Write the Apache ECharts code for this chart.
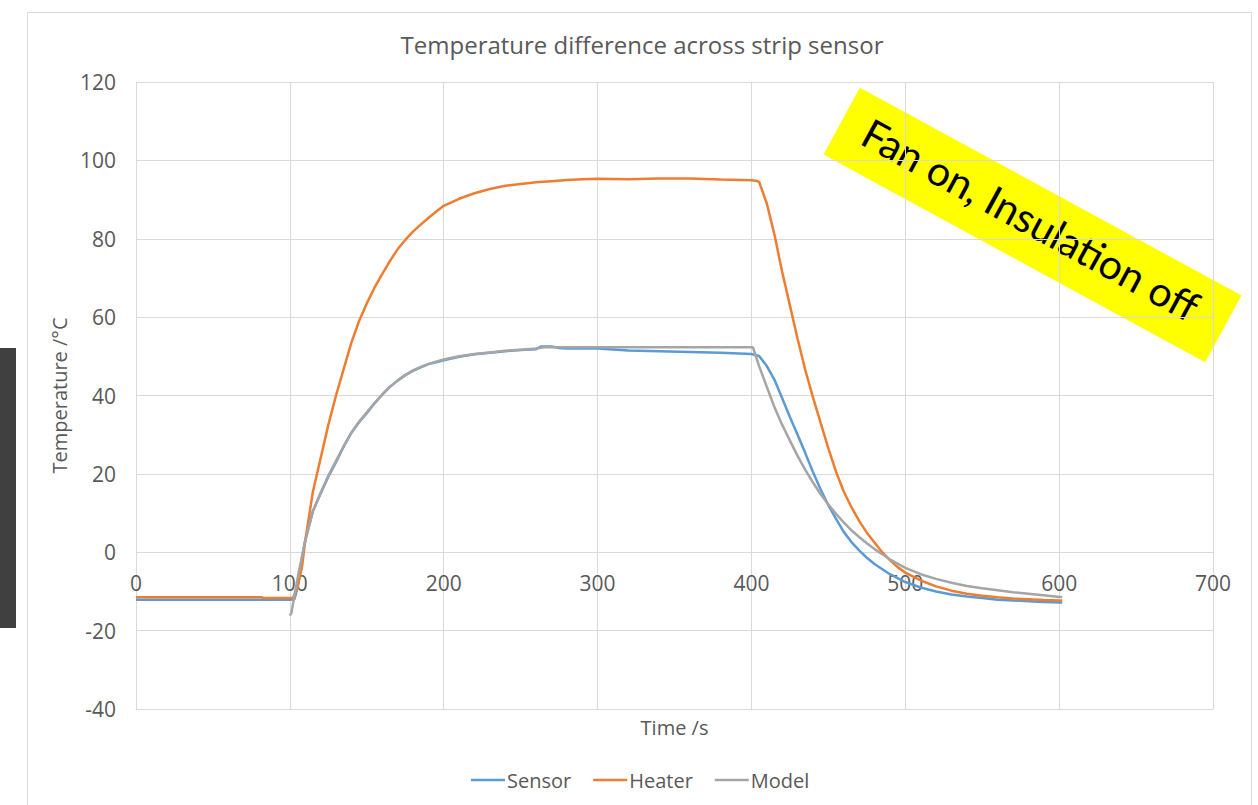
<!DOCTYPE html>
<html>
<head>
<meta charset="utf-8">
<script src="https://cdn.jsdelivr.net/npm/echarts@6/dist/echarts.min.js"></script>
<style>
html,body{margin:0;padding:0;background:#fff;}
#chart{width:1258px;height:805px;}
</style>
</head>
<body>
<div id="chart"></div>
<script>
const xTicks = [0, 100, 200, 300, 400, 500, 600, 700];
const yTicks = [-40, -20, 0, 20, 40, 60, 80, 100, 120];
const seriesNames = ['Sensor', 'Heater', 'Model'];

const sensorTime = [0, 20, 40, 60, 80, 100, 103, 105, 108, 110, 115, 120, 125, 130, 135, 140, 145, 150, 155, 160, 165, 170, 175, 180, 185, 190, 195, 200, 210, 220, 230, 240, 250, 260, 263, 270, 275, 280, 300, 320, 340, 360, 380, 400, 405, 410, 415, 420, 425, 430, 435, 440, 445, 450, 455, 460, 465, 470, 475, 480, 490, 500, 510, 520, 530, 540, 550, 560, 570, 580, 590, 600, 602];
const sensorTemp = [-12.1, -12.1, -12.1, -12.1, -12.1, -12.1, -12, -9, -1, 3, 10.5, 15, 19.3, 23, 27, 30.5, 33.2, 35.5, 38, 40.2, 42.2, 43.8, 45.2, 46.3, 47.2, 48, 48.5, 49, 49.9, 50.5, 50.9, 51.3, 51.6, 51.8, 52.5, 52.5, 52.1, 52, 52, 51.5, 51.3, 51.1, 50.9, 50.6, 50.1, 47.5, 44, 39.3, 34.5, 30, 25.3, 20.5, 16, 12, 8.5, 5.2, 2.6, 0.5, -1.4, -3, -5.6, -7.6, -9, -10, -10.8, -11.3, -11.7, -12.1, -12.3, -12.5, -12.7, -12.8, -12.8];

const heaterTime = [0, 82, 83, 102, 105, 108, 110, 115, 120, 125, 130, 135, 140, 145, 150, 155, 160, 165, 170, 175, 180, 185, 190, 195, 200, 210, 220, 230, 240, 250, 260, 270, 280, 290, 300, 320, 340, 360, 380, 400, 403, 405, 410, 415, 420, 425, 430, 435, 440, 445, 450, 455, 460, 465, 470, 475, 480, 485, 490, 495, 500, 510, 520, 530, 540, 550, 560, 570, 580, 590, 600, 602];
const heaterTemp = [-11.5, -11.5, -11.7, -11.7, -9, -3.5, 3, 15.5, 24, 32.5, 40, 46.8, 53.5, 59, 63.5, 67.5, 71, 74.3, 77.3, 79.7, 81.8, 83.6, 85.3, 86.9, 88.4, 90.2, 91.6, 92.7, 93.5, 94, 94.4, 94.7, 95, 95.2, 95.3, 95.2, 95.4, 95.4, 95.1, 94.9, 94.8, 94.5, 89, 81, 71.5, 63, 54.5, 46.5, 39.5, 33, 26.5, 20.5, 15.5, 11.5, 8, 5, 2.5, 0, -2, -3.8, -5.2, -7.2, -8.7, -9.8, -10.6, -11.1, -11.5, -11.8, -12, -12.2, -12.3, -12.3];

const modelTime = [100, 101, 103, 106, 108, 110, 115, 120, 125, 130, 135, 140, 145, 150, 155, 160, 165, 170, 175, 180, 185, 190, 195, 200, 210, 220, 230, 240, 250, 260, 265, 300, 350, 401, 405, 410, 415, 420, 425, 430, 435, 440, 445, 450, 455, 460, 465, 470, 475, 480, 490, 500, 510, 520, 530, 540, 550, 560, 570, 580, 590, 600, 602];
const modelTemp = [-16.2, -15.5, -11, -4.6, -1, 3, 10.5, 15.2, 19.5, 23.3, 27, 30.5, 33.3, 35.7, 38, 40.2, 42.2, 43.8, 45.2, 46.4, 47.3, 48, 48.6, 49.2, 50, 50.6, 51, 51.4, 51.7, 52, 52.3, 52.3, 52.3, 52.3, 47.5, 42.2, 37, 32.5, 28.5, 24.6, 21, 17.8, 14.8, 12.2, 9.8, 7.6, 5.6, 3.9, 2.3, 0.8, -1.8, -4, -5.6, -6.8, -7.8, -8.6, -9.2, -9.7, -10.2, -10.6, -11, -11.4, -11.4];

const zip = (a, b) => a.map((t, i) => [t, b[i]]);

const chart = echarts.init(document.getElementById('chart'), null, {renderer: 'svg'});
const FONT = '"Open Sans", "Segoe UI", sans-serif';
const TXT = '#595959';
const GRID = '#d9d9d9';

chart.setOption({
  animation: false,
  backgroundColor: '#fff',
  title: {
    text: 'Temperature difference across strip sensor',
    left: 637, top: 27, textAlign: 'center',
    textStyle: {fontFamily: FONT, fontSize: 24, fontWeight: 'normal', color: TXT}
  },
  legend: {
    data: seriesNames,
    bottom: 10, left: 466,
    icon: 'rect', itemWidth: 34, itemHeight: 2.5, itemGap: 22,
    textStyle: {fontFamily: FONT, fontSize: 20, color: TXT, padding: [0, 0, 0, -3]}
  },
  grid: {left: 136, right: 45, top: 82, bottom: 96, containLabel: false, outerBoundsMode: 'none'},
  xAxis: {
    type: 'value', min: xTicks[0], max: xTicks[xTicks.length - 1], interval: 100,
    name: 'Time /s', nameLocation: 'middle', nameGap: 8,
    nameTextStyle: {fontFamily: FONT, fontSize: 20, color: TXT},
    axisLine: {show: true, onZero: false, lineStyle: {color: GRID, width: 1}},
    axisTick: {show: false},
    axisLabel: {fontFamily: FONT, fontSize: 21, color: TXT, margin: -137},
    splitLine: {show: true, lineStyle: {color: GRID, width: 1}}
  },
  yAxis: {
    type: 'value', min: yTicks[0], max: yTicks[yTicks.length - 1], interval: 20,
    name: 'Temperature /°C', nameLocation: 'middle', nameGap: 64,
    nameTextStyle: {fontFamily: FONT, fontSize: 20, color: TXT},
    axisLine: {show: false},
    axisTick: {show: false},
    axisLabel: {fontFamily: FONT, fontSize: 21, color: TXT, margin: 20},
    splitLine: {show: true, lineStyle: {color: GRID, width: 1}}
  },
  series: [
    {name: seriesNames[0], type: 'line', data: zip(sensorTime, sensorTemp), symbol: 'none', showSymbol: false,
     lineStyle: {color: '#5B9BD5', width: 2.5}, itemStyle: {color: '#5B9BD5'}, z: 2},
    {name: seriesNames[1], type: 'line', data: zip(heaterTime, heaterTemp), symbol: 'none', showSymbol: false,
     lineStyle: {color: '#ED7D31', width: 2.5}, itemStyle: {color: '#ED7D31'}, z: 3},
    {name: seriesNames[2], type: 'line', data: zip(modelTime, modelTemp), symbol: 'none', showSymbol: false,
     lineStyle: {color: '#A5A5A5', width: 2.5}, itemStyle: {color: '#A5A5A5'}, z: 4}
  ],
  graphic: [
    {type: 'rect', left: 25, top: 10, shape: {width: 1224, height: 810},
     style: {fill: 'none', stroke: GRID, lineWidth: 1}, z: -1, silent: true},
    {type: 'rect', left: 0, top: 348, shape: {width: 16, height: 280},
     style: {fill: '#404040'}, z: 10, silent: true},
    {type: 'group', x: 1032.5, y: 225, rotation: -0.4983, z: 100, silent: true,
     children: [
       {type: 'rect', shape: {x: -217.3, y: -38, width: 434.6, height: 76}, style: {fill: '#FFFF00'}},
       {type: 'text', x: -4, y: -4,
        style: {text: 'Fan on, Insulation off', fill: '#000', font: '41px Lato, "Noto Sans", sans-serif',
                textAlign: 'center', textVerticalAlign: 'middle'}}
     ]}
  ]
});
</script>
</body>
</html>
